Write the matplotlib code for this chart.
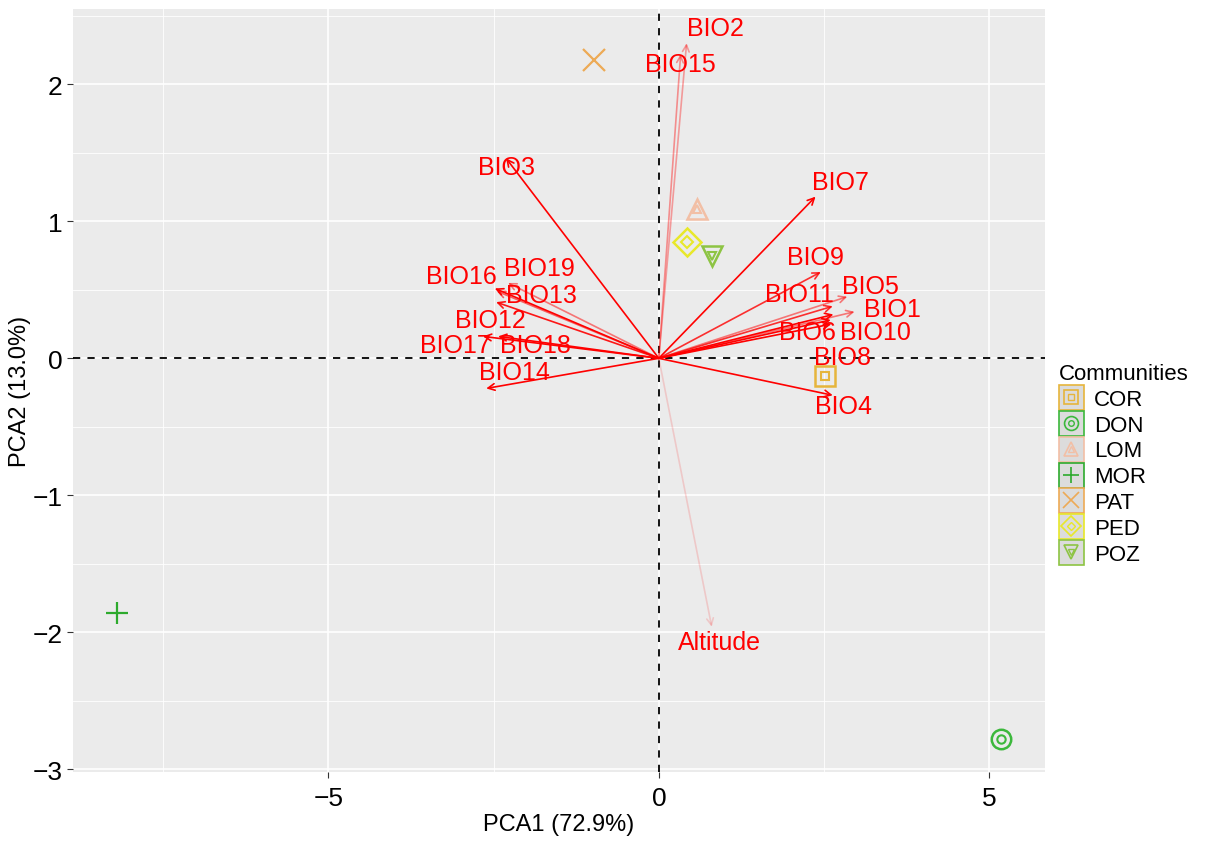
import numpy as np
import matplotlib
matplotlib.use('Agg')
import matplotlib.pyplot as plt
from matplotlib.lines import Line2D
from matplotlib.legend_handler import HandlerTuple

plt.rcParams['font.family'] = ['Liberation Sans', 'DejaVu Sans']

# site scores on the first two components
communities = ['COR', 'DON', 'LOM', 'MOR', 'PAT', 'PED', 'POZ']
pc1_sites = [2.51, 5.17, 0.57, -8.19, -0.98, 0.42, 0.80]
pc2_sites = [-0.13, -2.78, 1.09, -1.86, 2.18, 0.85, 0.75]

# variable loadings (arrow tips)
variables = ['BIO1', 'BIO2', 'BIO3', 'BIO4', 'BIO5', 'BIO6', 'BIO7', 'BIO8',
             'BIO9', 'BIO10', 'BIO11', 'BIO12', 'BIO13', 'BIO14', 'BIO15',
             'BIO16', 'BIO17', 'BIO18', 'BIO19', 'Altitude']
pc1_vars = [2.96, 0.42, -2.31, 2.63, 2.85, 2.60, 2.37, 2.61,
            2.45, 2.64, 2.63, -2.46, -2.45, -2.61, 0.33,
            -2.48, -2.66, -2.43, -2.28, 0.80]
pc2_vars = [0.34, 2.30, 1.46, -0.27, 0.45, 0.28, 1.18, 0.25,
            0.63, 0.32, 0.38, 0.41, 0.49, -0.22, 2.22,
            0.51, 0.16, 0.16, 0.55, -1.96]
# contribution shading of each arrow
var_alpha = [0.5, 0.35, 1.0, 1.0, 0.5, 1.0, 1.0, 1.0,
             0.8, 1.0, 0.8, 0.9, 0.6, 1.0, 0.4,
             1.0, 1.0, 1.0, 0.5, 0.15]

# label nudges (data units) so the names sit next to the tips
label_shift = {
    'BIO1': (0.57, 0.02), 'BIO2': (0.43, 0.11), 'BIO3': (0.0, -0.06),
    'BIO4': (0.16, -0.08), 'BIO5': (0.35, 0.08), 'BIO6': (-0.35, -0.09),
    'BIO7': (0.38, 0.11), 'BIO8': (0.17, -0.24), 'BIO9': (-0.08, 0.11),
    'BIO10': (0.64, -0.13), 'BIO11': (-0.5, 0.09), 'BIO12': (-0.08, -0.13),
    'BIO13': (0.68, -0.03), 'BIO14': (0.42, 0.12), 'BIO15': (-0.01, -0.07),
    'BIO16': (-0.5, 0.09), 'BIO17': (-0.41, -0.06), 'BIO18': (0.56, -0.06),
    'BIO19': (0.47, 0.11), 'Altitude': (0.11, -0.11),
}

site_colors = ['#E6B53C', '#3CB83C', '#F2BFA5', '#2DAA2D', '#EDAA55', '#E8E82A', '#8DC443']
site_markers = ['s', 'o', '^', '+', 'x', 'D', 'v']
inner_markers = ['s', 'o', '^', None, None, 'D', 'v']

fig = plt.figure(figsize=(12.12, 8.45), dpi=100)
ax = fig.add_axes([0.0602, 0.0852, 0.802, 0.903])
ax.set_facecolor('#EBEBEB')
ax.set_xlim(-8.86, 5.84)
ax.set_ylim(-3.02, 2.55)

# ggplot-like grid
ax.set_xticks([-5, 0, 5])
ax.set_yticks([-3, -2, -1, 0, 1, 2])
ax.set_xticks([-7.5, -2.5, 2.5], minor=True)
ax.set_yticks([-2.5, -1.5, -0.5, 0.5, 1.5, 2.5], minor=True)
ax.grid(which='major', color='white', lw=1.2)
ax.grid(which='minor', color='white', lw=0.6)
ax.set_axisbelow(True)
for s in ax.spines.values():
    s.set_visible(False)
ax.tick_params(which='major', length=4, color='#333333', labelsize=19, labelcolor='black', width=0.8)
ax.tick_params(axis='x', which='major', pad=6)
ax.tick_params(which='minor', length=0)
ax.set_xticklabels(['\u22125', '0', '5'])
ax.set_yticklabels(['\u22123', '\u22122', '\u22121', '0', '1', '2'])

ax.axhline(0, color='black', ls=(0, (4, 4)), lw=1.3, zorder=1)
ax.axvline(0, color='black', ls=(0, (4, 4)), lw=1.3, zorder=1)

# variable arrows
for name, vx, vy, a in zip(variables, pc1_vars, pc2_vars, var_alpha):
    ax.annotate('', xy=(vx, vy), xytext=(0, 0),
                arrowprops=dict(arrowstyle='->', color='red', alpha=a, lw=1.2,
                                shrinkA=0, shrinkB=0, mutation_scale=12),
                zorder=2)
    dx, dy = label_shift[name]
    ax.text(vx + dx, vy + dy, name, color='red', fontsize=18,
            ha='center', va='center', zorder=4)

# community points, drawn as double outlines
for x, y, c, m, mi in zip(pc1_sites, pc2_sites, site_colors, site_markers, inner_markers):
    if m in ('+', 'x'):
        ax.plot(x, y, marker=m, ms=16, color=c, mew=1.6, ls='none', zorder=3)
    else:
        ax.plot(x, y, marker=m, ms=14, mfc='none', mec=c, mew=1.8, ls='none', zorder=3)
        ax.plot(x, y, marker=mi, ms=6, mfc='none', mec=c, mew=1.5, ls='none', zorder=3)

ax.set_xlabel('PCA1 (72.9%)', fontsize=17, labelpad=2)
ax.set_ylabel('PCA2 (13.0%)', fontsize=17, labelpad=1)

# legend keys: grey box outlined in the community colour with its marker
handles = []
for c, m, mi in zip(site_colors, site_markers, inner_markers):
    box = Line2D([], [], marker='s', ms=18, mfc='#DCDCDC', mec=c, mew=1.2, ls='none')
    if m in ('+', 'x'):
        mk = Line2D([], [], marker=m, ms=12, color=c, mew=1.2, ls='none')
        handles.append((box, mk))
    else:
        mk = Line2D([], [], marker=m, ms=10, mfc='none', mec=c, mew=1.2, ls='none')
        mk2 = Line2D([], [], marker=mi, ms=4, mfc='none', mec=c, mew=1.0, ls='none')
        handles.append((box, mk, mk2))

leg = fig.legend(handles, communities, title='Communities',
                 handler_map={tuple: HandlerTuple(ndivide=1, pad=0)},
                 loc='upper left', bbox_to_anchor=(0.866, 0.58),
                 frameon=False, fontsize=16, title_fontsize=16,
                 handlelength=1.1, handletextpad=0.5, labelspacing=0.22,
                 borderaxespad=0)
leg._legend_box.align = 'left'

fig.savefig('out.png', dpi=100)
